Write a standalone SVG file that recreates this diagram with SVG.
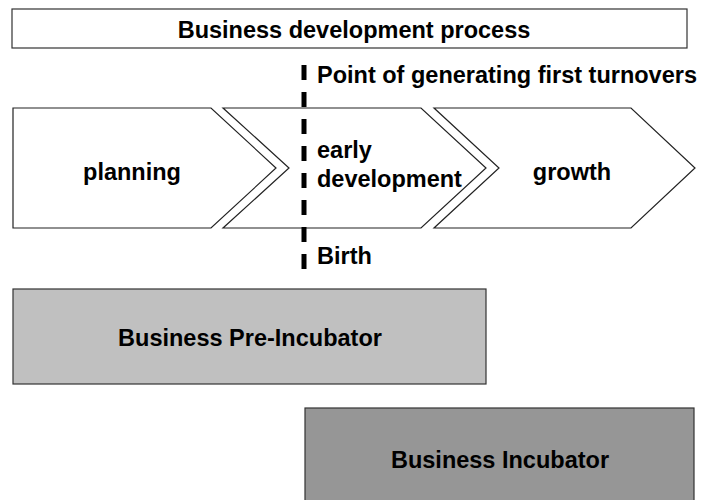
<svg xmlns="http://www.w3.org/2000/svg" width="701" height="500" viewBox="0 0 701 500">
<style>
text{font-family:"Liberation Sans",Arial,sans-serif;font-weight:bold;font-size:23.5px;fill:#000}
.box{stroke:#333;stroke-width:1.2}
.chev{fill:#fff;stroke:#222;stroke-width:1.2}
</style>
<rect width="701" height="500" fill="#fff"/>
<g id="header">
<rect class="box" x="12" y="9" width="675" height="39" fill="#fff"/>
<text x="354" y="38" text-anchor="middle">Business development process</text>
</g>
<g id="planning">
<polygon class="chev" points="13,108 211,108 276,168 211,228 13,228"/>
<text x="132" y="180" text-anchor="middle">planning</text>
</g>
<g id="early">
<polygon class="chev" points="223,108 421,108 486,168 421,228 223,228 289,168"/>
<text x="317" y="158">early</text>
<text x="317" y="187">development</text>
</g>
<g id="growth">
<polygon class="chev" points="434,108 631,108 695,168 631,228 434,228 499,168"/>
<text x="572" y="180" text-anchor="middle">growth</text>
</g>
<g id="connectors">
<line x1="304" y1="65" x2="304" y2="274" stroke="#000" stroke-width="5" stroke-dasharray="15 12"/>
</g>
<g id="milestone-top">
<text x="317" y="83">Point of generating first turnovers</text>
</g>
<g id="milestone-birth">
<text x="317" y="264">Birth</text>
</g>
<g id="pre-incubator">
<rect class="box" x="13" y="289" width="473" height="95" fill="#c0c0c0"/>
<text x="250" y="346" text-anchor="middle">Business Pre-Incubator</text>
</g>
<g id="incubator">
<rect class="box" x="305" y="408" width="389" height="100" fill="#969696"/>
<text x="500" y="468" text-anchor="middle">Business Incubator</text>
</g>
</svg>
